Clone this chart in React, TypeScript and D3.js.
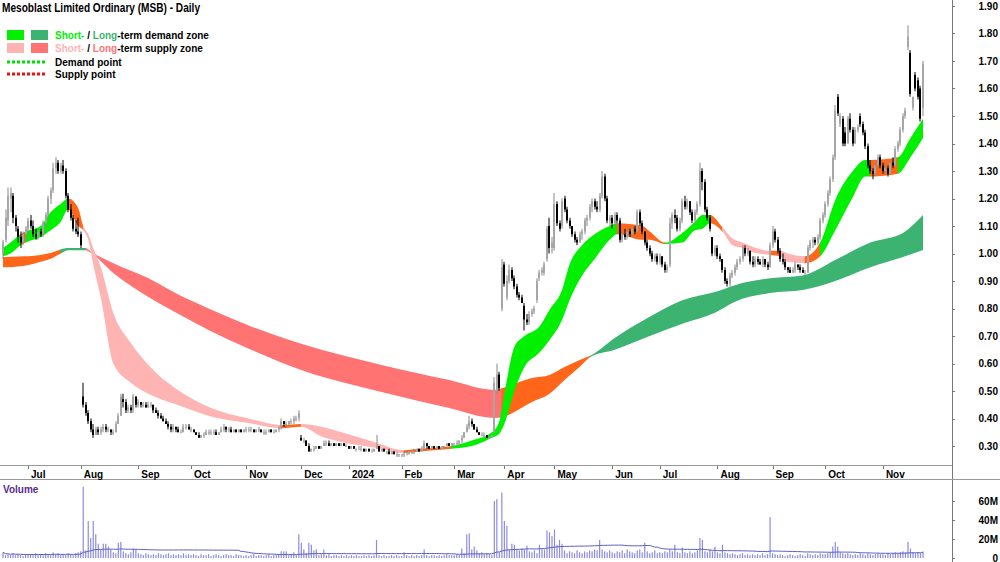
import React, { useMemo } from "react";
import * as d3 from "d3";

type Candle = [number, number, number, number]; // open, high, low, close (cents)
type Knot = [number, number, number, string]; // day index, upper, lower, state

// daily candles, one array per month
const jun23: Candle[] = [[100,105,98,104],[105,116,104,113],[112,124,110,121],[120,124,115,122],[121,122,111,113],[113,114,108,110],[109,110,104,106],[106,108,102,104],[104,108,103,107],[107,110,105,109]];
const jul23: Candle[] = [[109,113,107,112],[112,114,109,110],[110,112,106,107],[107,109,105,106],[106,109,105,108],[108,109,106,107],[107,112,106,111],[111,115,109,114],[114,121,113,120],[120,124,118,123],[123,133,122,131],[131,135,129,133],[133,134,129,130],[130,133,129,132],[132,134,129,130],[130,131,120,121],[121,122,115,116],[116,118,112,113],[113,114,108,109],[109,112,107,108],[108,113,106,107]];
const aug23: Candle[] = [[107,108,102,103],[48,53,44,45],[45,46,41,42],[42,43,38,39],[39,40,35,36],[36,38,33,34],[34,37,34,36],[36,37,34,35],[35,37,34,36],[36,38,35,37],[37,38,35,36],[36,37,35,36],[36,36,34,35],[35,36,34,35],[35,39,35,38],[38,42,38,41],[41,49,41,48],[47,49,44,46],[46,47,42,43],[43,45,42,44],[44,45,42,43],[43,49,42,48],[48,48,44,45]];
const sep23: Candle[] = [[45,47,44,46],[46,46,44,45],[45,46,44,45],[45,46,44,44],[44,46,44,45],[45,46,44,45],[45,45,42,43],[43,44,42,42],[42,43,40,41],[41,42,40,40],[40,41,39,39],[39,40,38,38],[38,39,36,37],[37,38,35,36],[36,38,35,37],[37,37,35,36],[36,37,35,35],[35,36,35,35],[35,38,35,37],[37,38,36,37],[37,38,36,36]];
const oct23: Candle[] = [[36,37,35,36],[36,36,35,35],[35,35,34,34],[34,35,33,33],[33,34,33,34],[34,35,33,34],[34,36,34,35],[35,36,34,35],[35,36,34,35],[35,36,34,35],[35,36,34,34],[34,35,34,35],[35,37,35,36],[36,38,35,37],[37,37,35,36],[36,37,35,36],[36,37,35,35],[35,36,35,36],[36,36,35,35],[35,36,35,36],[36,36,35,35],[35,36,35,36]];
const nov23: Candle[] = [[36,37,35,36],[36,37,35,36],[36,37,35,36],[36,36,35,35],[35,36,35,36],[36,37,35,36],[36,36,35,35],[35,36,34,35],[35,36,34,35],[35,36,35,36],[36,36,35,35],[35,36,35,35],[35,36,35,36],[36,37,35,37],[37,40,36,39],[39,39,37,38],[38,39,37,38],[38,39,37,39],[39,40,38,39],[39,41,38,40],[40,41,39,40],[40,43,39,42]];
const dec23: Candle[] = [[33,34,32,32],[32,33,31,32],[32,32,30,30],[30,31,28,28],[28,29,28,29],[29,30,28,29],[29,30,29,30],[30,30,29,29],[29,30,29,30],[30,32,30,31],[31,32,30,31],[31,32,30,30],[30,31,30,31],[31,31,30,30],[30,31,30,31],[31,31,30,30],[30,31,30,31],[31,31,30,30],[30,31,30,30]];
const jan24: Candle[] = [[30,30,29,29],[29,30,29,30],[30,30,29,29],[29,29,28,29],[29,30,29,29],[29,30,28,29],[29,29,28,28],[28,29,28,29],[29,29,28,28],[28,29,28,28],[28,29,28,29],[29,34,29,30],[30,30,28,28],[28,29,28,29],[29,29,28,28],[28,28,27,28],[28,29,27,27],[27,28,27,28],[28,28,27,27],[27,28,26,27],[27,27,26,27]];
const feb24: Candle[] = [[27,27,26,27],[27,28,26,27],[27,28,27,27],[27,28,27,28],[28,28,27,28],[28,29,27,28],[28,29,28,29],[29,29,28,28],[28,30,28,29],[29,32,29,31],[31,31,29,30],[30,30,29,29],[29,30,29,30],[30,30,29,29],[29,30,29,30],[30,30,29,29],[29,30,29,30],[30,30,29,30],[30,31,30,31],[31,31,30,30],[30,31,30,31]];
const mar24: Candle[] = [[31,31,30,31],[31,32,30,31],[31,32,30,32],[32,34,31,33],[33,35,33,35],[35,38,35,37],[37,41,36,39],[39,40,37,38],[38,38,36,36],[36,37,35,35],[35,35,34,34],[34,35,34,34],[34,35,33,34],[34,34,33,33],[33,34,33,33],[33,34,33,34],[35,55,35,53],[50,60,49,56],[56,57,50,51],[80,98,79,95]];
const apr24: Candle[] = [[96,97,88,89],[84,92,83,90],[90,96,89,94],[94,95,90,91],[91,92,87,88],[88,89,84,85],[85,86,83,84],[84,85,82,82],[81,82,72,76],[76,78,74,75],[75,79,74,78],[78,80,77,79],[79,81,78,80],[83,91,82,90],[91,94,90,93],[93,95,92,94],[93,97,92,96],[98,110,97,109],[110,113,100,102],[102,106,100,104]];
const may24: Candle[] = [[102,122,101,118],[118,119,110,111],[111,112,108,109],[110,120,109,119],[120,121,115,116],[116,117,111,112],[112,113,109,110],[110,110,106,107],[107,108,104,105],[105,106,103,104],[104,108,104,107],[107,109,105,108],[108,113,107,112],[112,114,110,113],[113,118,112,117],[117,120,115,119],[119,120,116,117],[117,119,115,116],[116,122,115,121],[121,130,120,128],[128,129,119,120],[120,121,111,112],[112,114,110,113]];
const jun24: Candle[] = [[113,114,109,111],[111,115,110,114],[114,115,111,112],[112,113,104,105],[105,108,104,107],[107,109,105,106],[106,109,105,108],[108,109,106,107],[107,110,106,109],[109,110,107,108],[108,116,108,115],[115,116,110,111],[111,112,107,108],[108,108,103,104],[104,105,101,102],[102,103,99,100],[100,101,97,98],[98,100,97,99],[99,100,96,97]];
const jul24: Candle[] = [[97,100,96,99],[99,99,95,96],[96,97,93,94],[94,96,93,95],[96,113,95,111],[111,115,109,114],[114,116,111,113],[113,114,108,109],[109,113,108,112],[112,120,111,119],[119,121,116,117],[117,120,116,119],[119,119,114,115],[115,116,111,112],[112,116,111,115],[115,119,114,118],[118,133,117,130],[130,131,123,126],[126,127,115,116],[116,117,112,113],[113,114,108,109],[106,106,99,100],[100,103,99,102]];
const aug24: Candle[] = [[102,103,98,99],[99,100,97,98],[98,98,93,94],[94,95,89,90],[90,91,88,89],[89,93,88,92],[92,94,91,93],[93,96,92,95],[95,98,94,97],[97,99,96,98],[98,103,97,102],[102,103,99,100],[100,102,99,101],[101,101,96,97],[97,99,95,96],[96,99,95,98],[98,99,96,97],[97,98,96,96],[96,99,95,98],[98,98,95,96],[96,97,94,95],[95,104,95,103]];
const sep24: Candle[] = [[103,110,102,108],[108,109,104,105],[105,106,100,101],[101,102,97,98],[98,100,96,97],[97,98,94,95],[95,95,93,94],[94,95,93,93],[93,95,93,94],[94,97,93,96],[96,96,94,95],[95,96,93,94],[94,95,93,93],[93,94,92,93],[93,103,93,102],[102,105,101,104],[104,106,102,105],[105,106,103,104],[104,107,103,106],[106,113,105,112],[112,115,111,114]];
const oct24: Candle[] = [[114,119,113,118],[118,123,117,122],[122,128,121,127],[127,136,126,135],[135,154,134,152],[157,158,150,151],[147,151,146,150],[149,150,139,140],[144,146,139,140],[140,150,140,149],[149,151,144,145],[145,146,139,140],[140,146,140,145],[145,147,144,146],[150,151,146,147],[147,148,143,144],[144,145,138,139],[139,140,131,132],[132,134,129,130],[130,131,127,129],[129,133,128,132],[132,136,131,135],[135,136,131,132]];
const nov24: Candle[] = [[132,133,129,130],[130,133,129,131],[131,132,128,129],[129,134,129,133],[133,135,131,132],[132,139,132,138],[138,141,137,140],[140,146,139,145],[145,151,144,150],[150,153,149,152],[175,183,174,179],[173,174,157,158],[153,157,152,157],[165,166,159,160],[163,164,156,157],[160,161,148,149],[153,170,150,169]];

// daily volume in millions
const volJun23 = [6,3,4,3,5,3,4,3,2,4];
const volJul23 = [3,4,3,5,3,4,3,5,4,3,6,4,5,3,4,3,5,4,3,5,6];
const volAug23 = [7,75,8,39,21,39,25,15,9,15,15,12,9,6,5,16,17,7,5,4,6,10,9];
const volSep23 = [5,4,3,5,4,3,4,3,5,4,3,4,5,3,4,3,4,3,5,3,4];
const volOct23 = [3,4,3,2,4,3,3,4,2,3,4,3,2,3,4,3,3,2,4,3,3,2];
const volNov23 = [3,2,3,4,2,3,3,2,3,4,2,3,3,4,7,7,7,3,4,6,3,25];
const volDec23 = [16,9,5,16,14,8,9,3,4,9,3,4,2,3,3,2,3,2,3];
const volJan24 = [2,3,2,3,2,2,3,2,3,2,3,19,3,2,3,2,2,3,2,3,2];
const volFeb24 = [2,6,3,2,3,2,3,2,3,9,3,2,3,3,2,3,2,3,4,3,3];
const volMar24 = [3,4,3,10,5,25,26,9,12,8,5,6,4,5,4,3,60,62,6,69];
const volApr24 = [39,34,9,15,14,9,8,10,9,13,7,6,8,5,14,9,9,29,27,23];
const volMay24 = [30,14,19,15,8,5,7,6,5,8,6,5,7,6,8,7,9,8,19,9,7,6,8];
const volJun24 = [6,5,7,6,8,5,9,7,6,5,8,9,6,16,7,5,6,8,5];
const volJul24 = [6,5,7,6,9,7,14,6,5,11,6,5,7,5,6,8,21,19,7,6,9,7,12];
const volAug24 = [6,5,14,6,5,4,5,4,3,4,5,3,4,3,4,3,4,3,5,3,4,43];
const volSep24 = [5,4,3,4,3,2,3,4,3,2,3,4,3,2,5,4,3,4,3,5,4];
const volOct24 = [4,5,6,12,17,12,6,5,4,5,4,3,4,3,5,4,3,5,4,3,4,5,4];
const volNov24 = [4,3,5,4,5,6,5,6,7,6,17,10,6,5,6,5,7];

// short-term zone (G demand, P supply, O neutral) read at knots
const shortZone: Knot[] = [
  [0,1.02,0.99,"G"],[3,1.04,1.0,"G"],[7,1.07,1.03,"O"],[9,1.08,1.04,"G"],[15,1.10,1.06,"G"],
  [19,1.15,1.085,"G"],[23,1.18,1.115,"G"],[26,1.20,1.16,"O"],[30,1.165,1.10,"O"],[32,1.10,1.085,"P"],
  [34,1.07,1.05,"P"],[36,1.02,0.96,"P"],[39,0.95,0.84,"P"],[44,0.784,0.60,"P"],[51,0.675,0.53,"P"],
  [58,0.595,0.49,"P"],[63,0.55,0.47,"P"],[68,0.515,0.455,"P"],[84,0.435,0.405,"P"],[98,0.40,0.384,"P"],
  [111,0.376,0.365,"O"],[119,0.38,0.37,"P"],[127,0.37,0.335,"P"],[135,0.35,0.315,"P"],[148,0.315,0.295,"P"],
  [160,0.285,0.275,"O"],[166,0.29,0.28,"O"],[179,0.30,0.29,"G"],[187,0.32,0.30,"G"],[195,0.35,0.33,"G"],
  [198,0.39,0.345,"G"],[200,0.49,0.38,"G"],[204,0.66,0.50,"G"],[208,0.70,0.587,"G"],[214,0.735,0.64,"G"],
  [218,0.795,0.685,"G"],[223,0.867,0.758,"G"],[226,0.96,0.83,"G"],[231,1.03,0.92,"G"],[236,1.07,0.98,"G"],
  [242,1.10,1.05,"G"],[245,1.11,1.07,"O"],[255,1.10,1.05,"O"],[258,1.08,1.05,"O"],[264,1.04,1.035,"G"],
  [271,1.075,1.04,"G"],[276,1.115,1.085,"G"],[279,1.14,1.09,"G"],[282,1.14,1.11,"O"],[287,1.095,1.08,"P"],
  [291,1.055,1.03,"P"],[295,1.04,1.02,"P"],[299,1.025,1.005,"P"],[306,1.01,0.995,"O"],[310,1.01,0.99,"P"],
  [313,1.0,0.97,"P"],[320,0.99,0.965,"O"],[326,1.04,0.99,"G"],[332,1.195,1.085,"G"],[339,1.30,1.205,"G"],
  [344,1.34,1.28,"G"],[346,1.34,1.28,"O"],[357,1.35,1.29,"G"],[362,1.42,1.35,"G"],[367,1.49,1.42,"G"],
];

// long-term zone (D demand, S supply, O neutral)
const longZone: Knot[] = [
  [0,0.987,0.95,"O"],[8,0.99,0.955,"O"],[15,0.995,0.97,"O"],[20,1.005,0.985,"O"],[23,1.015,1.0,"D"],
  [26,1.02,1.012,"D"],[33,1.02,1.012,"S"],[35,1.007,1.003,"S"],[44,0.965,0.929,"S"],[58,0.91,0.842,"S"],
  [68,0.86,0.79,"S"],[82,0.80,0.722,"S"],[99,0.735,0.65,"S"],[119,0.672,0.576,"S"],[151,0.595,0.496,"S"],
  [178,0.54,0.438,"S"],[196,0.504,0.402,"S"],[199,0.51,0.405,"O"],[211,0.547,0.46,"O"],[218,0.558,0.49,"O"],
  [224,0.587,0.54,"O"],[230,0.613,0.587,"O"],[234,0.627,0.622,"D"],[244,0.693,0.65,"D"],[258,0.77,0.70,"D"],
  [271,0.83,0.745,"D"],[284,0.86,0.785,"D"],[292,0.885,0.825,"D"],[306,0.91,0.856,"D"],[319,0.92,0.867,"D"],
  [332,0.976,0.90,"D"],[346,1.04,0.95,"D"],[359,1.075,0.987,"D"],[367,1.14,1.013,"D"],
];

const holidays = ["2023-12-25","2023-12-26","2024-01-01","2024-01-26","2024-03-29","2024-04-01","2024-04-25","2024-06-10"];
const firstDay = "2023-06-19";
const monthNames = ["Jan","Feb","Mar","Apr","May","Jun","Jul","Aug","Sep","Oct","Nov","Dec"];
const priceTicks = [0.3,0.4,0.5,0.6,0.7,0.8,0.9,1.0,1.1,1.2,1.3,1.4,1.5,1.6,1.7,1.8,1.9];
const volumeTicks = [0,20,40,60];
const volumeTickLabels = ["0","20M","40M","60M"];

const candles = [jun23,jul23,aug23,sep23,oct23,nov23,dec23,jan24,feb24,mar24,apr24,may24,jun24,jul24,aug24,sep24,oct24,nov24].flat();
const volumes = [volJun23,volJul23,volAug23,volSep23,volOct23,volNov23,volDec23,volJan24,volFeb24,volMar24,volApr24,volMay24,volJun24,volJul24,volAug24,volSep24,volOct24,volNov24].flat();

const FONT = "'Liberation Sans', Arial, sans-serif";
const COL = {
  G: "#00f000", P: "#ffb4b4", O: "#ff661a", D: "#3cb371", S: "#ff7373",
};

function tradingDays(n: number) {
  const out: Date[] = [];
  const d = new Date(firstDay + "T00:00:00Z");
  while (out.length < n) {
    const dow = d.getUTCDay();
    const iso = d.toISOString().slice(0, 10);
    if (dow !== 0 && dow !== 6 && !holidays.includes(iso)) out.push(new Date(d));
    d.setUTCDate(d.getUTCDate() + 1);
  }
  return out;
}

function Zone({ knots, id, x, y }: { knots: Knot[]; id: string; x: any; y: any }) {
  const area = d3
    .area<Knot>()
    .x((k) => x(k[0]))
    .y0((k) => y(k[2]))
    .y1((k) => y(k[1]))
    .curve(d3.curveMonotoneX);
  const d = area(knots) || "";
  const runs: { from: number; to: number; state: string }[] = [];
  let start = 0;
  for (let k = 1; k < knots.length; k++) {
    if (knots[k][3] !== knots[start][3] || k === knots.length - 1) {
      runs.push({ from: knots[start][0], to: knots[k][0], state: knots[start][3] });
      start = k;
    }
  }
  return (
    <g>
      <defs>
        {runs.map((r, j) => (
          <clipPath id={`${id}-${j}`} key={j}>
            <rect x={x(r.from) - 0.4} y={0} width={x(r.to) - x(r.from) + 0.8} height={470} />
          </clipPath>
        ))}
      </defs>
      {runs.map((r, j) => (
        <path key={j} d={d} fill={(COL as any)[r.state]} clipPath={`url(#${id}-${j})`} />
      ))}
    </g>
  );
}

export default function App() {
  const n = candles.length;
  const days = useMemo(() => tradingDays(n), [n]);

  const x = d3.scaleLinear().domain([0, n - 1]).range([3, 923]);
  const y = d3.scaleLinear().domain([0.3, 1.9]).range([446, 6]);
  const yv = d3.scaleLinear().domain([0, 60]).range([558, 501]);

  const monthTicks = days
    .map((d, i) => ({ d, i }))
    .filter(({ d, i }) => i > 0 && d.getUTCMonth() !== days[i - 1].getUTCMonth())
    .map(({ d, i }) => ({
      i,
      label: d.getUTCMonth() === 0 ? String(d.getUTCFullYear()) : monthNames[d.getUTCMonth()],
    }));

  // 63-day simple average of volume
  const volAvg = volumes.map((_, i) => d3.mean(volumes.slice(Math.max(0, i - 62), i + 1)) as number);
  const avgLine = d3
    .line<number>()
    .x((_, i) => x(i))
    .y((v) => yv(v));

  return (
    <svg
      width={1000}
      height={562}
      style={{ position: "absolute", left: 0, top: 0, background: "#fff" }}
      fontFamily={FONT}
      fontWeight="bold"
    >
      <rect width={1000} height={562} fill="#fff" />

      <Zone knots={longZone} id="lt" x={x} y={y} />
      <Zone knots={shortZone} id="st" x={x} y={y} />

      {/* candles */}
      <g>
        {candles.map(([o, h, l, c], i) => {
          const cx = Math.round(x(i));
          const up = c >= o;
          const top = y(Math.max(o, c) / 100);
          const bot = y(Math.min(o, c) / 100);
          return (
            <g key={i}>
              <rect x={cx - 0.5} y={y(h / 100)} width={1} height={Math.max(1, y(l / 100) - y(h / 100))} fill={up ? "#8a8a8a" : "#000"} />
              <rect x={cx - 1} y={top} width={2} height={Math.max(1, bot - top)} fill={up ? "#a6a6a6" : "#000"} />
            </g>
          );
        })}
      </g>

      {/* axes frame */}
      <line x1={952.5} y1={0} x2={952.5} y2={562} stroke="#777" />
      <line x1={0} y1={465.5} x2={952} y2={465.5} stroke="#999" />
      <line x1={0} y1={479.5} x2={1000} y2={479.5} stroke="#999" />

      {priceTicks.map((t) => (
        <g key={t}>
          <line x1={952} x2={955} y1={Math.round(y(t)) + 0.5} y2={Math.round(y(t)) + 0.5} stroke="#777" />
          <text x={998} y={y(t) + 3.5} textAnchor="end" fontSize={10}>
            {t.toFixed(2)}
          </text>
        </g>
      ))}

      {monthTicks.map((m) => (
        <g key={m.i}>
          <line x1={Math.round(x(m.i)) + 0.5} x2={Math.round(x(m.i)) + 0.5} y1={466} y2={469} stroke="#777" />
          <text x={x(m.i) + 3} y={477.5} fontSize={10}>
            {m.label}
          </text>
        </g>
      ))}

      {/* volume */}
      <text x={3} y={493} fontSize={10} fill="#5a2a8c">
        Volume
      </text>
      <g>
        {volumes.map((v, i) => (
          <rect key={i} x={x(i) - 0.6} y={yv(v)} width={1.2} height={558 - yv(v)} fill="#8c8ce0" />
        ))}
      </g>
      <path d={avgLine(volAvg) || ""} fill="none" stroke="#5e5ec4" strokeWidth={1} />
      {volumeTicks.map((t, j) => (
        <g key={t}>
          <line x1={952} x2={955} y1={Math.round(yv(t)) + 0.5} y2={Math.round(yv(t)) + 0.5} stroke="#777" />
          <text x={998} y={yv(t) + 3.5} textAnchor="end" fontSize={10}>
            {volumeTickLabels[j]}
          </text>
        </g>
      ))}

      {/* title and legend */}
      <text x={2} y={12} fontSize={12} textLength={198} lengthAdjust="spacingAndGlyphs">
        Mesoblast Limited Ordinary (MSB) - Daily
      </text>
      <rect x={7} y={30} width={17} height={10} fill={COL.G} />
      <rect x={31} y={30} width={17} height={10} fill={COL.D} />
      <text x={55} y={39} fontSize={10}>
        <tspan fill={COL.G}>Short-</tspan>
        <tspan fill="#000">{" / "}</tspan>
        <tspan fill={COL.D}>Long</tspan>
        <tspan fill="#000">-term demand zone</tspan>
      </text>
      <rect x={7} y={43} width={17} height={10} fill={COL.P} />
      <rect x={31} y={43} width={17} height={10} fill={COL.S} />
      <text x={55} y={52} fontSize={10}>
        <tspan fill={COL.P}>Short-</tspan>
        <tspan fill="#000">{" / "}</tspan>
        <tspan fill={COL.S}>Long</tspan>
        <tspan fill="#000">-term supply zone</tspan>
      </text>
      <line x1={7} x2={47} y1={62} y2={62} stroke="#00e000" strokeWidth={3} strokeDasharray="3 2" />
      <text x={55} y={66} fontSize={10}>
        Demand point
      </text>
      <line x1={7} x2={47} y1={74} y2={74} stroke="#ee1111" strokeWidth={3} strokeDasharray="3 2" />
      <text x={55} y={78} fontSize={10}>
        Supply point
      </text>
    </svg>
  );
}
